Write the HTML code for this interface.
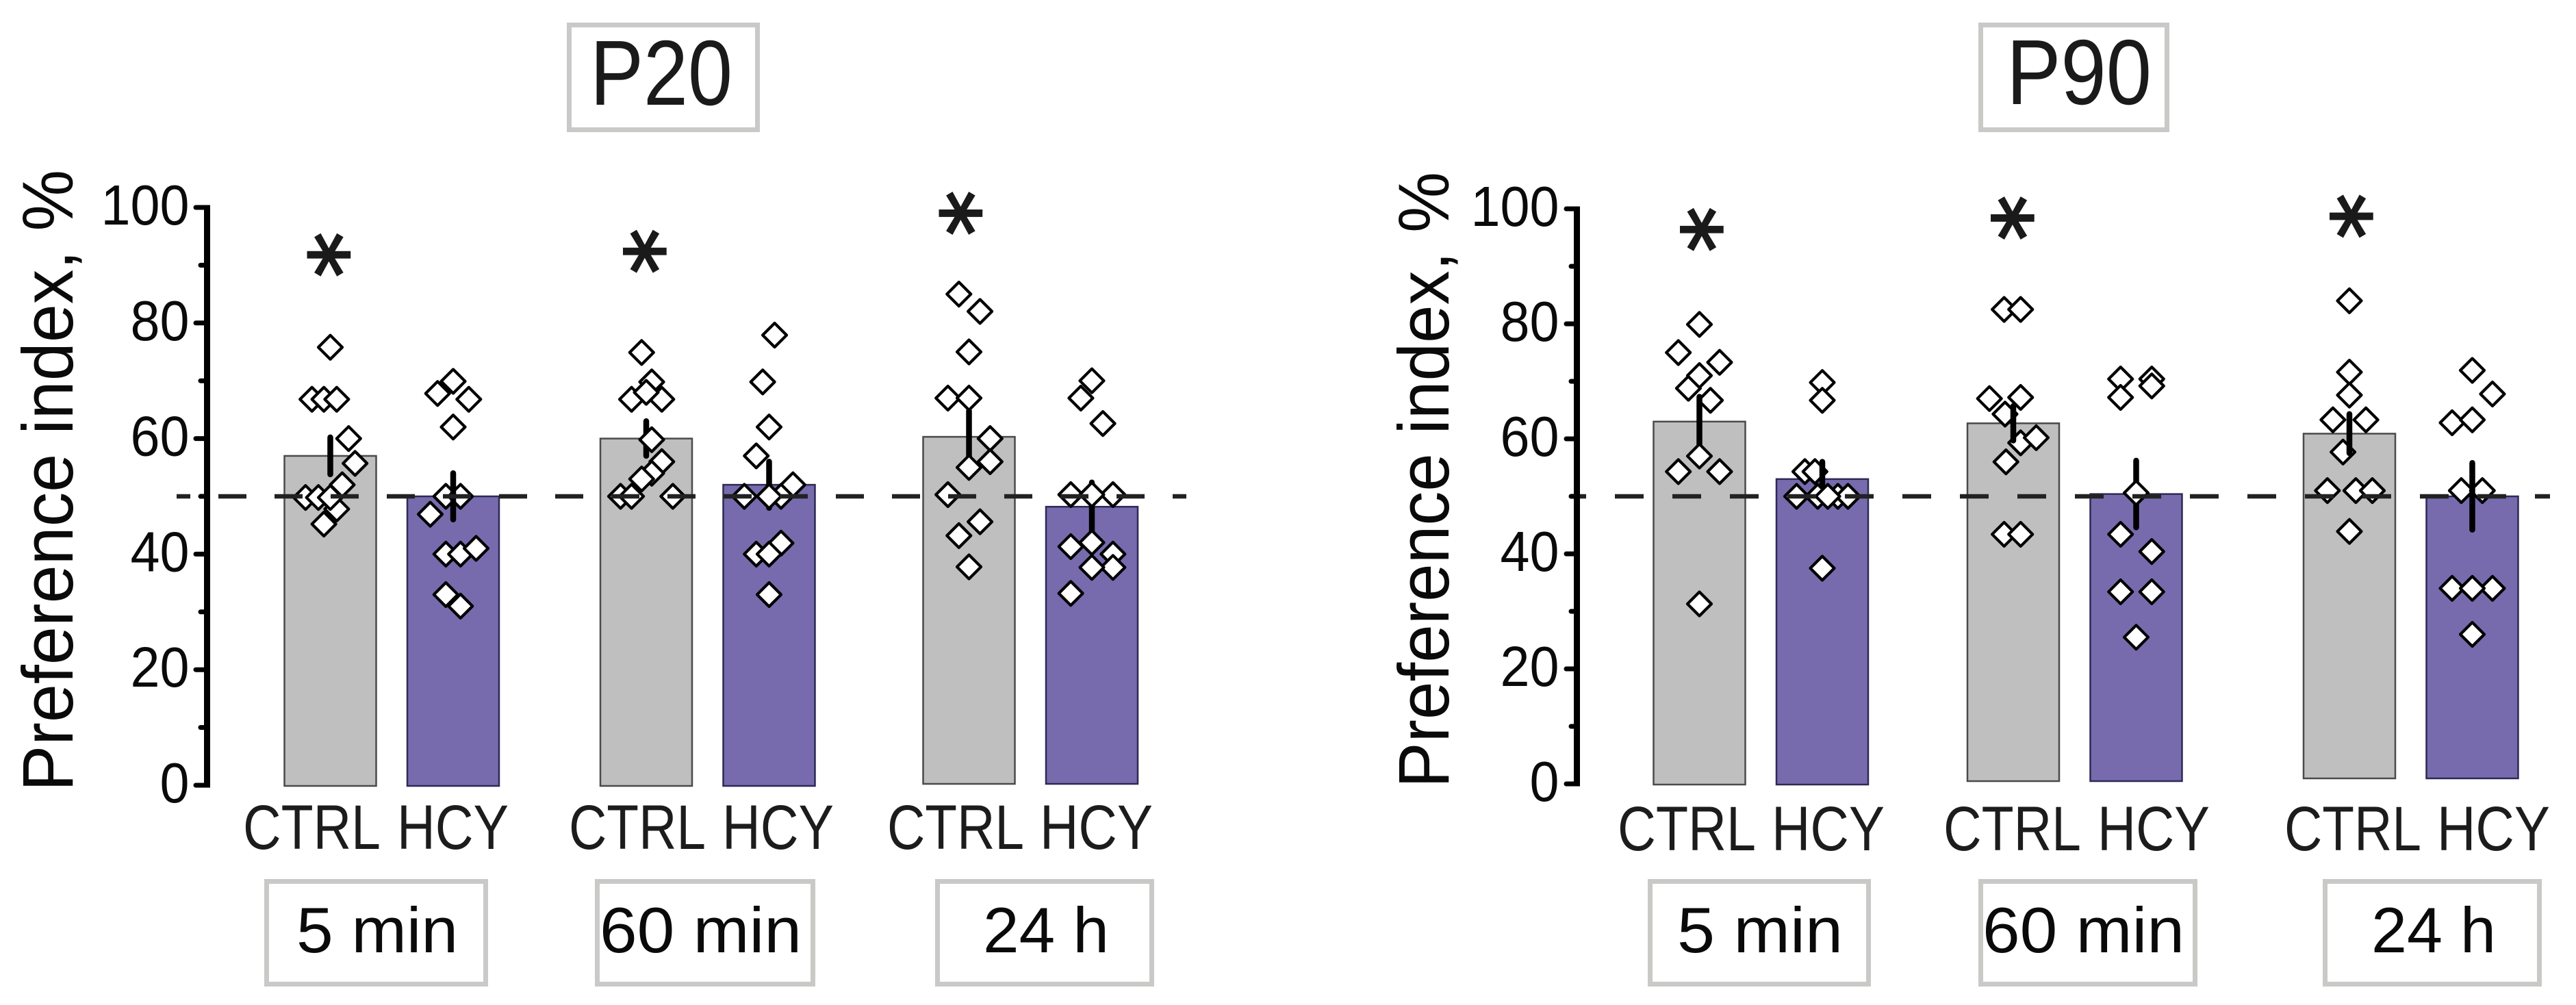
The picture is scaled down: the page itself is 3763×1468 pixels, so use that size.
<!DOCTYPE html>
<html lang="en">
<head>
<meta charset="utf-8">
<title>Preference index at P20 and P90</title>
<style>
  html, body { margin: 0; padding: 0; background: #fff; }
  svg { display: block; }
  text { font-family: "Liberation Sans", sans-serif; }
  .box { fill: #fff; stroke: #c9c9c7; stroke-width: 7; }
  .title { font-size: 135px; fill: #1a1a1a; }
  .time { font-size: 94px; fill: #0a0a0a; }
  .group { font-size: 92px; fill: #1c1c1c; }
  .ytitle { font-size: 105px; fill: #0a0a0a; }
  .tick { font-size: 83px; fill: #0a0a0a; text-anchor: end; }
  .star { font-family: "DejaVu Sans", sans-serif; font-size: 132px; fill: #1a1a1a; stroke: #1a1a1a; stroke-width: 3.5px; text-anchor: middle; }
</style>
</head>
<body>
<svg id="figure" xmlns="http://www.w3.org/2000/svg" width="3763" height="1468" viewBox="0 0 3763 1468">
  <rect width="3763" height="1468" fill="#fff"/>

  <g>
    <rect class="box" x="831.5" y="36.5" width="275" height="153"/>
    <text class="title" x="862" y="153" textLength="208" lengthAdjust="spacingAndGlyphs">P20</text>
  </g>
  <g>
    <rect class="box" x="2893.5" y="36.5" width="272" height="153"/>
    <text class="title" x="2931" y="152" textLength="212" lengthAdjust="spacingAndGlyphs">P90</text>
  </g>

  <text class="ytitle" transform="translate(106,702) rotate(-90)" text-anchor="middle" textLength="908" lengthAdjust="spacingAndGlyphs">Preference index, %</text>
  <text class="ytitle" transform="translate(2116,701) rotate(-90)" text-anchor="middle" textLength="900" lengthAdjust="spacingAndGlyphs">Preference index, %</text>

  <g id="p20-plot"></g>
  <g id="p90-plot"></g>

  <g>
    <text class="group" x="355" y="1240" textLength="201" lengthAdjust="spacingAndGlyphs">CTRL</text>
    <text class="group" x="580" y="1240" textLength="163" lengthAdjust="spacingAndGlyphs">HCY</text>
    <text class="group" x="831" y="1240" textLength="200" lengthAdjust="spacingAndGlyphs">CTRL</text>
    <text class="group" x="1055" y="1240" textLength="163" lengthAdjust="spacingAndGlyphs">HCY</text>
    <text class="group" x="1296" y="1240" textLength="200" lengthAdjust="spacingAndGlyphs">CTRL</text>
    <text class="group" x="1519" y="1240" textLength="165" lengthAdjust="spacingAndGlyphs">HCY</text>
  </g>
  <g>
    <text class="group" x="2363" y="1242" textLength="202" lengthAdjust="spacingAndGlyphs">CTRL</text>
    <text class="group" x="2588" y="1242" textLength="165" lengthAdjust="spacingAndGlyphs">HCY</text>
    <text class="group" x="2839" y="1242" textLength="201" lengthAdjust="spacingAndGlyphs">CTRL</text>
    <text class="group" x="3064" y="1242" textLength="164" lengthAdjust="spacingAndGlyphs">HCY</text>
    <text class="group" x="3337" y="1242" textLength="200" lengthAdjust="spacingAndGlyphs">CTRL</text>
    <text class="group" x="3560" y="1242" textLength="165" lengthAdjust="spacingAndGlyphs">HCY</text>
  </g>

  <g>
    <rect class="box" x="389.5" y="1287.5" width="320" height="150"/>
    <text class="time" x="433" y="1391" textLength="236" lengthAdjust="spacingAndGlyphs">5 min</text>
    <rect class="box" x="872.5" y="1287.5" width="315" height="150"/>
    <text class="time" x="876" y="1391" textLength="295" lengthAdjust="spacingAndGlyphs">60 min</text>
    <rect class="box" x="1369.5" y="1287.5" width="313" height="150"/>
    <text class="time" x="1436" y="1391" textLength="184" lengthAdjust="spacingAndGlyphs">24 h</text>
  </g>
  <g>
    <rect class="box" x="2410.5" y="1287.5" width="319" height="150"/>
    <text class="time" x="2450" y="1391" textLength="242" lengthAdjust="spacingAndGlyphs">5 min</text>
    <rect class="box" x="2893.5" y="1287.5" width="313" height="150"/>
    <text class="time" x="2896" y="1391" textLength="295" lengthAdjust="spacingAndGlyphs">60 min</text>
    <rect class="box" x="3396.5" y="1287.5" width="313" height="150"/>
    <text class="time" x="3464" y="1391" textLength="182" lengthAdjust="spacingAndGlyphs">24 h</text>
  </g>
</svg>

<script>
// ---- chart data ----
const yTickValues = [0, 20, 40, 60, 80, 100];
const yTickLabels = ['0', '20', '40', '60', '80', '100'];
const yMinorValues = [10, 30, 50, 70, 90];
const chanceLevel = 50;
const timePoints = ['5min', '60min', '24h'];
const treatments = ['ctrl', 'hcy'];

const p20CtrlMeans = [57, 60, 60.3];
const p20HcyMeans = [50, 52, 48.2];
const p20CtrlErrors = [3.2, 3, 4.5];
const p20HcyErrors = [4, 4, 4.2];
const p20StarLevels = [91.8, 92.4, 99];

const p90CtrlMeans = [63, 62.7, 60.9];
const p90HcyMeans = [53, 50.4, 50];
const p90CtrlErrors = [4.3, 3, 3.4];
const p90HcyErrors = [3, 5.8, 5.8];
const p90StarLevels = [96.4, 98.4, 98.7];

// individual animals, one array per time point
const p20CtrlValues = [
  [75.8, 66.8, 66.8, 66.8, 60, 55.7, 52, 49.8, 49.8, 49.8, 47.8, 45.2],
  [74.9, 69.8, 66.8, 68, 66.8, 59.8, 56, 54, 53, 50, 50, 50],
  [85, 82, 75, 67, 67, 60, 56, 55, 50.3, 45.6, 43.2, 37.8]
];
const p20HcyValues = [
  [69.9, 67.8, 66.8, 62, 50, 50, 46.9, 40, 40, 41, 33, 31],
  [77.9, 69.8, 62, 57, 52, 50, 50, 50, 41.9, 40, 40, 33],
  [70, 67, 62.6, 50.3, 50.3, 50.3, 41.3, 42, 40, 37.7, 37.7, 33.2]
];
const p90CtrlValues = [
  [79.9, 75, 73.3, 71, 68.8, 66.7, 57, 54.3, 54.3, 31.3],
  [82.5, 82.5, 67, 67.2, 64.3, 59.3, 60.2, 56, 43.4, 43.4],
  [84, 71.6, 67.6, 63.3, 63.3, 57.7, 51, 51, 51, 43.9]
];
const p90HcyValues = [
  [69.8, 66.7, 54.3, 54.3, 50, 50, 50, 50, 50, 37.5],
  [70.4, 70.4, 69.2, 67.2, 50.6, 43.4, 40.4, 33.4, 33.4, 25.5],
  [71.9, 67.8, 62.8, 63.3, 51, 51, 34, 34, 34, 26]
];
// horizontal scatter of each animal, as a fraction of the bar width
const p20CtrlJitter = [
  [0, -.2, -.07, .07, .2, .27, .13, -.27, -.13, 0, .07, -.07],
  [-.05, .06, -.16, 0, .17, .06, .17, .06, -.05, -.28, -.16, .29],
  [-.11, .12, 0, -.23, 0, .23, .23, 0, -.23, .12, -.11, 0]
];
const p20HcyJitter = [
  [0, -.17, .17, 0, -.08, .08, -.25, -.08, .08, .25, -.08, .08],
  [.06, -.07, 0, -.14, .26, -.27, 0, .13, .13, 0, -.14, 0],
  [0, -.12, .12, -.23, 0, .23, -.23, 0, .23, 0, .23, -.23]
];
const p90CtrlJitter = [
  [0, -.23, .22, 0, -.12, .12, 0, -.23, .22, 0],
  [-.1, .08, -.26, .08, -.09, .08, .25, -.08, -.1, .08],
  [0, 0, 0, -.18, .18, -.07, -.24, .07, .25, 0]
];
const p90HcyJitter = [
  [0, 0, -.19, -.08, -.28, -.05, .06, .17, .28, 0],
  [-.17, .17, .17, -.17, 0, -.17, .17, -.17, .17, 0],
  [0, .22, -.22, 0, -.12, .11, -.22, 0, .22, 0]
];

// ---- layout ----
const NS = 'http://www.w3.org/2000/svg';
const BAR_WIDTH = 134;
const BAR_STEP = 179.5;

const panels = [
  {
    key: 'p20', root: 'p20-plot',
    axisX: 302.5, y0: 1147, y100: 303, tickStart: 286, minorStart: 293,
    groupX: [482.5, 944, 1415.5], baseTrim: [0, 0, 3], starShift: [0, 0, -10],
    dashFrom: 258, dashTo: 1733, dashLen: 41, dashOffset: 21,
    means: [p20CtrlMeans, p20HcyMeans], errors: [p20CtrlErrors, p20HcyErrors],
    values: [p20CtrlValues, p20HcyValues], jitter: [p20CtrlJitter, p20HcyJitter],
    stars: p20StarLevels
  },
  {
    key: 'p90', root: 'p90-plot',
    axisX: 2303.5, y0: 1145, y100: 305, tickStart: 2288, minorStart: 2295,
    groupX: [2482.5, 2941, 3432], baseTrim: [0, 5, 9], starShift: [5.5, 1, 5],
    dashFrom: 2296, dashTo: 3725, dashLen: 42, dashOffset: 21,
    means: [p90CtrlMeans, p90HcyMeans], errors: [p90CtrlErrors, p90HcyErrors],
    values: [p90CtrlValues, p90HcyValues], jitter: [p90CtrlJitter, p90HcyJitter],
    stars: p90StarLevels
  }
];

const barStyles = [
  { fill: '#bfbfbf', stroke: '#4a4a4a' },
  { fill: '#776bae', stroke: '#2d2a55' }
];

function svgEl(tag, parent, attrs) {
  const el = document.createElementNS(NS, tag);
  Object.keys(attrs).forEach(function (k) { el.setAttribute(k, attrs[k]); });
  parent.appendChild(el);
  return el;
}

function drawPanel(p) {
  const root = document.getElementById(p.root);
  const yScale = function (v) { return p.y0 + (p.y100 - p.y0) * v / 100; };
  const xScale = function (g, s) { return p.groupX[g] + s * BAR_STEP; };

  timePoints.forEach(function (time, g) {
    treatments.forEach(function (treatment, s) {
      const label = p.key + '-' + time + '-' + treatment;
      const cx = xScale(g, s);
      const group = svgEl('g', root, {});
      
      

      const top = yScale(p.means[s][g]);
      const base = p.y0 + 1 - p.baseTrim[g];
      const bar = svgEl('rect', group, {
        x: cx - BAR_WIDTH / 2, y: top, width: BAR_WIDTH, height: base - top,
        fill: barStyles[s].fill, stroke: barStyles[s].stroke, 'stroke-width': 2.5
      });
      
      

      const vals = p.values[s][g];
      const jit = p.jitter[s][g];
      const drawPoint = function (i) {
        const px = cx + jit[i] * BAR_WIDTH;
        const py = yScale(vals[i]);
        const h = 17.5;
        const point = svgEl('path', group, {
          d: 'M' + px + ' ' + (py - h) + 'L' + (px + h) + ' ' + py + 'L' + px + ' ' + (py + h) + 'L' + (px - h) + ' ' + py + 'Z',
          fill: '#fff', stroke: '#000', 'stroke-width': 4.2, 'stroke-linejoin': 'round'
        });
        
        
      };
      vals.forEach(function (v, i) { if (Math.abs(jit[i]) >= 0.07) drawPoint(i); });

      const err = svgEl('line', group, {
        x1: cx, x2: cx,
        y1: yScale(p.means[s][g] + p.errors[s][g]),
        y2: yScale(p.means[s][g] - p.errors[s][g]),
        stroke: '#000', 'stroke-width': 8.5, 'stroke-linecap': 'round'
      });
      
      

      vals.forEach(function (v, i) { if (Math.abs(jit[i]) < 0.07) drawPoint(i); });
    });

    const star = svgEl('text', root, {
      'class': 'star',
      transform: 'translate(' + (p.groupX[g] + p.starShift[g]) + ',' + yScale(p.stars[g]) + ') rotate(90)',
      x: 0, y: 70
    });
    
    
    star.textContent = '*';
  });

  const chance = svgEl('line', root, {
    x1: p.dashFrom, x2: p.dashTo, y1: yScale(chanceLevel), y2: yScale(chanceLevel),
    stroke: '#222', 'stroke-width': 6.5,
    'stroke-dasharray': p.dashLen + ' ' + p.dashLen, 'stroke-dashoffset': p.dashOffset
  });
  
  

  const axis = svgEl('g', root, {});
  
  

  const spine = svgEl('line', axis, {
    x1: p.axisX, x2: p.axisX, y1: yScale(100) - 3.5, y2: yScale(0) + 3.5,
    stroke: '#000', 'stroke-width': 9
  });
  
  

  yTickValues.forEach(function (v, i) {
    const y = yScale(v);
    const tick = svgEl('line', axis, {
      x1: p.tickStart, x2: p.axisX, y1: y, y2: y, stroke: '#000', 'stroke-width': 7, 'stroke-linecap': 'round'
    });
    
    
    const text = svgEl('text', axis, {
      'class': 'tick', x: p.axisX - 26, y: y + 25,
      textLength: yTickLabels[i].length * 43, lengthAdjust: 'spacingAndGlyphs'
    });
    
    
    text.textContent = yTickLabels[i];
  });
  yMinorValues.forEach(function (v) {
    const y = yScale(v);
    const minor = svgEl('line', axis, {
      x1: p.minorStart, x2: p.axisX, y1: y, y2: y, stroke: '#000', 'stroke-width': 7, 'stroke-linecap': 'round'
    });
    
    
  });
}

panels.forEach(drawPanel);
</script>
</body>
</html>
